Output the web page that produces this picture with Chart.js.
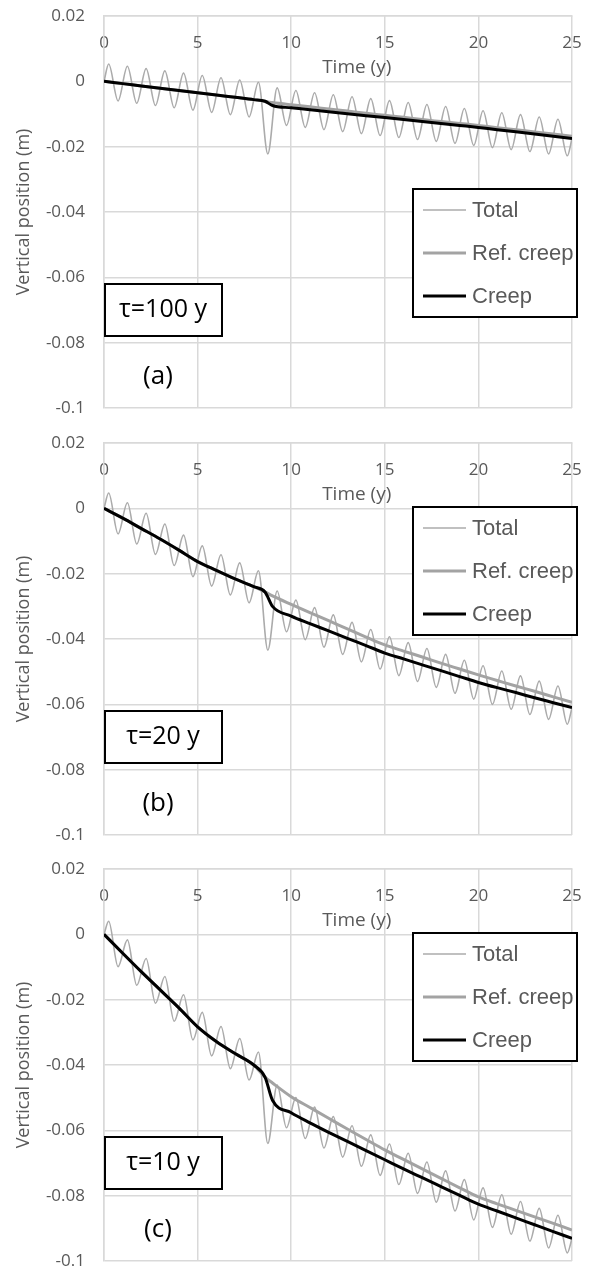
<!DOCTYPE html>
<html>
<head>
<meta charset="utf-8">
<script src="https://cdn.jsdelivr.net/npm/chart.js@4.4.0/dist/chart.umd.min.js"></script>
<style>
  body { margin: 0; background: #fff; overflow: hidden; }
  .panel { position: absolute; left: 0; width: 592px; height: 420px; }
</style>
</head>
<body>
<div class="panel" style="top:0"><canvas id="chartA" width="592" height="420"></canvas></div>
<div class="panel" style="top:427px"><canvas id="chartB" width="592" height="420"></canvas></div>
<div class="panel" style="top:853px"><canvas id="chartC" width="592" height="420"></canvas></div>
<script>
// time points (years) for the creep curves
const creepYears = [0, 1, 2, 3, 4, 5, 6, 7, 8, 8.6, 9, 10, 11, 12, 13, 14, 15, 16, 17, 18, 19, 20, 21, 22, 23, 24, 25];
// time points for the total curve: start, then each peak / trough, then end
const totalYears = [0,
  0.25, 0.75, 1.25, 1.75, 2.25, 2.75, 3.25, 3.75, 4.25, 4.75,
  5.25, 5.75, 6.25, 6.75, 7.25, 7.75, 8.25, 8.75, 9.25, 9.75,
  10.25, 10.75, 11.25, 11.75, 12.25, 12.75, 13.25, 13.75, 14.25, 14.75,
  15.25, 15.75, 16.25, 16.75, 17.25, 17.75, 18.25, 18.75, 19.25, 19.75,
  20.25, 20.75, 21.25, 21.75, 22.25, 22.75, 23.25, 23.75, 24.25, 24.75, 25];

const yTicks = [0.02, 0, -0.02, -0.04, -0.06, -0.08, -0.1];
const xTicks = [0, 5, 10, 15, 20, 25];

// (a) tau = 100 y
const creepA = [0, -0.0007, -0.0014, -0.0021, -0.0028, -0.0035, -0.0042, -0.0049, -0.0056, -0.0061, -0.0074,
  -0.0081, -0.0087, -0.0093, -0.0099, -0.0105, -0.0111, -0.0117, -0.0123, -0.0129, -0.0135,
  -0.0141, -0.0148, -0.0154, -0.0161, -0.0168, -0.0175];
const refA = [0, -0.0007, -0.0014, -0.0021, -0.0028, -0.0035, -0.0042, -0.0049, -0.0056, -0.0061, -0.0065,
  -0.0072, -0.0078, -0.0085, -0.0091, -0.0098, -0.0104, -0.0110, -0.0117, -0.0123, -0.0129,
  -0.0135, -0.0142, -0.0148, -0.0155, -0.0161, -0.0168];
const totalA = [0,
  0.0053, -0.0060, 0.0046, -0.0067, 0.0039, -0.0074, 0.0032, -0.0081, 0.0025, -0.0088,
  0.0018, -0.0095, 0.0011, -0.0102, 0.0004, -0.0109, -0.0003, -0.0222, -0.0020, -0.0135,
  -0.0028, -0.0141, -0.0035, -0.0148, -0.0041, -0.0154, -0.0047, -0.0160, -0.0053, -0.0166,
  -0.0059, -0.0172, -0.0065, -0.0178, -0.0071, -0.0184, -0.0077, -0.0190, -0.0083, -0.0196,
  -0.0090, -0.0203, -0.0096, -0.0209, -0.0102, -0.0215, -0.0109, -0.0222, -0.0116, -0.0228,
  -0.0175];

// (b) tau = 20 y
const creepB = [0, -0.0030, -0.0062, -0.0094, -0.0128, -0.0163, -0.0190, -0.0216, -0.0240, -0.0256, -0.0300,
  -0.0330, -0.0353, -0.0375, -0.0398, -0.0420, -0.0443, -0.0461, -0.0479, -0.0497, -0.0515,
  -0.0533, -0.0549, -0.0564, -0.0580, -0.0595, -0.0610];
const refB = [0, -0.0030, -0.0062, -0.0094, -0.0128, -0.0163, -0.0190, -0.0216, -0.0240, -0.0256, -0.0268,
  -0.0294, -0.0319, -0.0344, -0.0369, -0.0394, -0.0418, -0.0437, -0.0455, -0.0474, -0.0492,
  -0.0510, -0.0527, -0.0544, -0.0560, -0.0577, -0.0594];
const totalB = [0,
  0.0047, -0.0078, 0.0017, -0.0109, -0.0015, -0.0141, -0.0048, -0.0175, -0.0082, -0.0209,
  -0.0115, -0.0238, -0.0142, -0.0265, -0.0167, -0.0289, -0.0191, -0.0434, -0.0253, -0.0378,
  -0.0281, -0.0402, -0.0304, -0.0425, -0.0326, -0.0447, -0.0349, -0.0470, -0.0371, -0.0492,
  -0.0393, -0.0512, -0.0411, -0.0530, -0.0429, -0.0548, -0.0447, -0.0566, -0.0465, -0.0584,
  -0.0482, -0.0600, -0.0498, -0.0615, -0.0513, -0.0631, -0.0529, -0.0646, -0.0544, -0.0661,
  -0.0610];

// (c) tau = 10 y
const creepC = [0, -0.0058, -0.0115, -0.0170, -0.0225, -0.0283, -0.0328, -0.0365, -0.0400, -0.0437, -0.0508,
  -0.0546, -0.0577, -0.0606, -0.0634, -0.0662, -0.0690, -0.0718, -0.0745, -0.0772, -0.0799,
  -0.0826, -0.0847, -0.0868, -0.0889, -0.0910, -0.0931];
const refC = [0, -0.0058, -0.0115, -0.0170, -0.0225, -0.0283, -0.0328, -0.0365, -0.0400, -0.0437, -0.0455,
  -0.0497, -0.0530, -0.0563, -0.0596, -0.0628, -0.0660, -0.0689, -0.0718, -0.0747, -0.0776,
  -0.0804, -0.0825, -0.0845, -0.0865, -0.0885, -0.0905];
const totalC = [0,
  0.0040, -0.0099, -0.0017, -0.0156, -0.0074, -0.0211, -0.0129, -0.0266, -0.0185, -0.0323,
  -0.0239, -0.0372, -0.0282, -0.0411, -0.0319, -0.0446, -0.0360, -0.0640, -0.0461, -0.0592,
  -0.0500, -0.0625, -0.0529, -0.0654, -0.0558, -0.0682, -0.0586, -0.0710, -0.0614, -0.0738,
  -0.0642, -0.0766, -0.0670, -0.0793, -0.0697, -0.0820, -0.0724, -0.0847, -0.0751, -0.0874,
  -0.0776, -0.0897, -0.0797, -0.0918, -0.0818, -0.0939, -0.0839, -0.0960, -0.0860, -0.0975,
  -0.0931];

const seriesNames = ['Total', 'Ref. creep', 'Creep'];
const GRID = '#d9d9d9';
const TEXT = '#595959';
const FONT = '"Open Sans", Lato, sans-serif';

const panels = [
  { id: 'chartA', tau: 'τ=100 y', tag: '(a)', creep: creepA, ref: refA, total: totalA, legendTop: 173 },
  { id: 'chartB', tau: 'τ=20 y', tag: '(b)', creep: creepB, ref: refB, total: totalB, legendTop: 64 },
  { id: 'chartC', tau: 'τ=10 y', tag: '(c)', creep: creepC, ref: refC, total: totalC, legendTop: 64 }
];

const pairs = (xs, ys) => xs.map((x, i) => ({ x: x, y: ys[i] }));

// boxes and texts that sit inside the plot area
const overlay = {
  id: 'overlay',
  afterDraw(chart, args, opts) {
    const ctx = chart.ctx;
    const area = chart.chartArea;
    const xs = chart.scales.x;
    ctx.save();

    ctx.fillStyle = TEXT;
    ctx.font = '19px ' + FONT;
    ctx.textAlign = 'center';
    ctx.textBaseline = 'middle';
    ctx.fillText('Time (y)', xs.getPixelForValue(13.5), area.top + 52);

    // tau box
    ctx.fillStyle = '#fff';
    ctx.fillRect(area.left + 1, area.top + 268, 117, 52);
    ctx.strokeStyle = '#000';
    ctx.lineWidth = 2;
    ctx.strokeRect(area.left + 1, area.top + 268, 117, 52);
    ctx.fillStyle = '#000';
    ctx.font = '25px ' + FONT;
    ctx.fillText(opts.tau, area.left + 59, area.top + 294);
    ctx.font = '26px ' + FONT;
    ctx.fillText(opts.tag, area.left + 54, area.top + 361);

    // legend
    const lx = area.right - 159, ly = area.top + opts.legendTop;
    ctx.fillStyle = '#fff';
    ctx.fillRect(lx, ly, 164, 128);
    ctx.strokeStyle = '#000';
    ctx.lineWidth = 2;
    ctx.strokeRect(lx, ly, 164, 128);
    ctx.font = '22px "Liberation Sans", Arial';
    ctx.textAlign = 'left';
    const ds = chart.data.datasets;
    seriesNames.forEach((name, i) => {
      const d = ds.find(s => s.label === name);
      const y = ly + 21 + i * 43;
      ctx.strokeStyle = d.borderColor;
      ctx.lineWidth = d.borderWidth;
      ctx.beginPath();
      ctx.moveTo(lx + 10, y);
      ctx.lineTo(lx + 53, y);
      ctx.stroke();
      ctx.fillStyle = TEXT;
      ctx.fillText(name, lx + 59, y + 1);
    });
    ctx.restore();
  }
};

const noPad = s => { s.paddingLeft = 0; s.paddingRight = 0; s.paddingTop = 0; s.paddingBottom = 0; };

panels.forEach(p => {
  new Chart(document.getElementById(p.id), {
    type: 'line',
    data: {
      datasets: [
        { label: 'Creep', data: pairs(creepYears, p.creep), borderColor: '#000', borderWidth: 3,
          pointRadius: 0, cubicInterpolationMode: 'monotone' },
        { label: 'Ref. creep', data: pairs(creepYears, p.ref), borderColor: '#a3a3a3', borderWidth: 3,
          pointRadius: 0, cubicInterpolationMode: 'monotone' },
        { label: 'Total', data: pairs(totalYears, p.total), borderColor: '#ababab', borderWidth: 1.6,
          pointRadius: 0, cubicInterpolationMode: 'monotone' }
      ]
    },
    options: {
      responsive: false,
      animation: false,
      layout: { padding: { top: 16, bottom: 12, left: 0, right: 20 } },
      plugins: {
        legend: { display: false },
        tooltip: { enabled: false },
        overlay: p
      },
      scales: {
        x: {
          type: 'linear',
          position: { y: 0.02 },
          min: 0, max: 25,
          afterBuildTicks: s => { s.ticks = xTicks.map(v => ({ value: v })); },
          afterFit: noPad,
          ticks: { color: TEXT, font: { family: FONT, size: 17 }, padding: 17, maxRotation: 0 },
          grid: { color: GRID, lineWidth: 1.5, drawTicks: false },
          border: { color: GRID, width: 1.5 }
        },
        y: {
          min: -0.1, max: 0.02,
          afterBuildTicks: s => { s.ticks = yTicks.map(v => ({ value: v })); },
          afterFit: s => { noPad(s); s.width = 104; },
          ticks: {
            color: TEXT, font: { family: FONT, size: 17 }, padding: 19,
            callback: v => String(Number(v.toFixed(2)))
          },
          grid: { color: GRID, lineWidth: 1.5, drawTicks: false },
          border: { color: GRID, width: 1.5 },
          title: { display: true, text: 'Vertical position (m)', color: TEXT,
            font: { family: FONT, size: 18 }, padding: { top: 13 } }
        }
      }
    },
    plugins: [overlay]
  });
});
</script>
</body>
</html>
